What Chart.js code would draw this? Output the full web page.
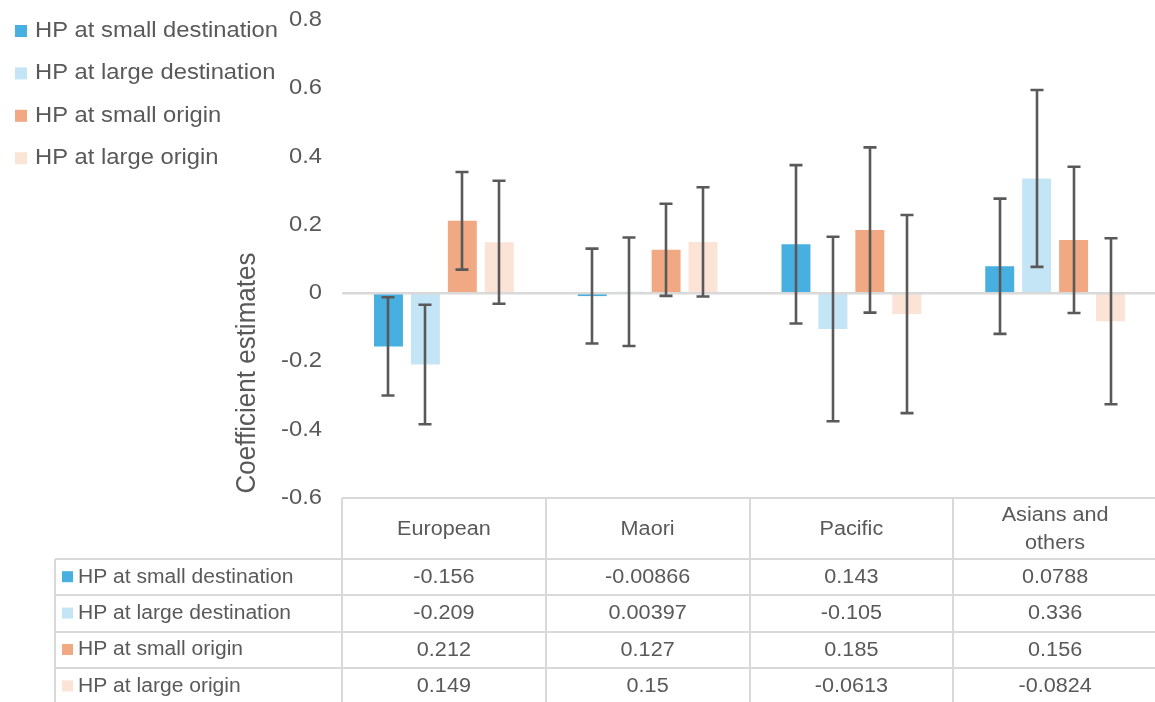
<!DOCTYPE html>
<html>
<head>
<meta charset="utf-8">
<title>Coefficient estimates</title>
<script src="https://cdn.jsdelivr.net/npm/chart.js@4.4.1/dist/chart.umd.min.js"></script>
<style>
  html, body { margin: 0; padding: 0; background: #ffffff; overflow: hidden; }
  #wrap { position: relative; width: 1157px; height: 702px; }
</style>
</head>
<body>
<div id="wrap"><canvas id="chart"></canvas></div>
<script>
// ---- data ----
const categories = ['European', 'Maori', 'Pacific', ['Asians and', 'others']];
const seriesNames = ['HP at small destination', 'HP at large destination', 'HP at small origin', 'HP at large origin'];
const smallDestination = [-0.156, -0.00866, 0.143, 0.0788];
const largeDestination = [-0.209, 0.00397, -0.105, 0.336];
const smallOrigin      = [0.212, 0.127, 0.185, 0.156];
const largeOrigin      = [0.149, 0.15, -0.0613, -0.0824];
// half-width of the confidence interval around each estimate
const smallDestinationErr = [0.144, 0.139, 0.232, 0.198];
const largeDestinationErr = [0.175, 0.159, 0.270, 0.259];
const smallOriginErr      = [0.143, 0.135, 0.242, 0.214];
const largeOriginErr      = [0.180, 0.160, 0.290, 0.243];
// table cell text, as printed
const smallDestinationText = ['-0.156', '-0.00866', '0.143', '0.0788'];
const largeDestinationText = ['-0.209', '0.00397', '-0.105', '0.336'];
const smallOriginText      = ['0.212', '0.127', '0.185', '0.156'];
const largeOriginText      = ['0.149', '0.15', '-0.0613', '-0.0824'];
const yTickLabels = ['-0.6', '-0.4', '-0.2', '0', '0.2', '0.4', '0.6', '0.8'];
const yAxisTitle = 'Coefficient estimates';

// ---- styling ----
const colors = ['#47B0E1', '#C3E5F5', '#F1A983', '#FBE3D6'];
const textColor = '#595959';
const lineGrey = '#D9D9D9';
const FONT = "'Liberation Sans', Arial, sans-serif";
const SX = 1.08; // horizontal text stretch

const values = [smallDestination, largeDestination, smallOrigin, largeOrigin];
const errors = [smallDestinationErr, largeDestinationErr, smallOriginErr, largeOriginErr];
const cellText = [smallDestinationText, largeDestinationText, smallOriginText, largeOriginText];

function drawText(ctx, text, x, y, size, align) {
  ctx.save();
  ctx.translate(x, y);
  ctx.scale(SX, 1);
  ctx.font = size + 'px ' + FONT;
  ctx.fillStyle = textColor;
  ctx.textAlign = align || 'left';
  ctx.textBaseline = 'middle';
  ctx.fillText(text, 0, 0);
  ctx.restore();
}

// zero line, error bars, tick labels, legend and data table
const decorations = {
  id: 'decorations',
  afterDatasetsDraw(chart) {
    const ctx = chart.ctx;
    const area = chart.chartArea;
    const y = chart.scales.y;

    // zero line
    const y0 = y.getPixelForValue(0);
    ctx.save();
    ctx.strokeStyle = lineGrey;
    ctx.lineWidth = 2.5;
    ctx.beginPath();
    ctx.moveTo(area.left, y0);
    ctx.lineTo(area.right, y0);
    ctx.stroke();
    ctx.restore();

    // error bars
    ctx.save();
    ctx.strokeStyle = '#595959';
    ctx.lineWidth = 2.6;
    const cap = 6.5;
    chart.data.datasets.forEach((ds, di) => {
      const meta = chart.getDatasetMeta(di);
      meta.data.forEach((bar, i) => {
        const v = values[di][i], e = errors[di][i];
        const top = y.getPixelForValue(v + e);
        const bot = y.getPixelForValue(v - e);
        const cx = Math.round(bar.x);
        ctx.beginPath();
        ctx.moveTo(cx, top); ctx.lineTo(cx, bot);
        ctx.moveTo(cx - cap, top); ctx.lineTo(cx + cap, top);
        ctx.moveTo(cx - cap, bot); ctx.lineTo(cx + cap, bot);
        ctx.stroke();
      });
    });
    ctx.restore();
  },
  afterDraw(chart) {
    const ctx = chart.ctx;
    const area = chart.chartArea;
    const y = chart.scales.y;
    const x = chart.scales.x;

    // y tick labels
    yTickLabels.forEach(t => {
      drawText(ctx, t, 322, y.getPixelForValue(parseFloat(t)), 22, 'right');
    });

    // y axis title
    ctx.save();
    ctx.translate(247, 373);
    ctx.scale(SX, 1);
    ctx.rotate(-Math.PI / 2);
    ctx.font = '26px ' + FONT;
    ctx.fillStyle = textColor;
    ctx.textAlign = 'center';
    ctx.textBaseline = 'middle';
    ctx.fillText(yAxisTitle, 0, 0);
    ctx.restore();

    // legend
    const legY0 = 31, legStep = 42.4;
    seriesNames.forEach((name, i) => {
      const cy = legY0 + i * legStep;
      ctx.fillStyle = colors[i];
      ctx.fillRect(15, cy - 6, 12, 12);
      drawText(ctx, name, 35, cy, 22, 'left');
    });

    // data table
    const tableTop = area.bottom;
    const headerBottom = 559;
    const rowH = 36.4;
    const tableLeft = 55;
    const tableBottom = headerBottom + rowH * 4;
    const half = (x.getPixelForValue(1) - x.getPixelForValue(0)) / 2;

    ctx.save();
    ctx.strokeStyle = lineGrey;
    ctx.lineWidth = 2;
    ctx.beginPath();
    // top of table along the plot bottom
    ctx.moveTo(area.left, tableTop); ctx.lineTo(area.right, tableTop);
    // column separators
    for (let i = 0; i <= categories.length; i++) {
      const cx = Math.round(x.getPixelForValue(i) - half);
      ctx.moveTo(cx, tableTop); ctx.lineTo(cx, tableBottom + 4);
    }
    // left edge of the series label column
    ctx.moveTo(tableLeft, headerBottom); ctx.lineTo(tableLeft, tableBottom + 4);
    // row separators
    for (let r = 0; r <= 4; r++) {
      const ry = Math.round(headerBottom + r * rowH);
      ctx.moveTo(tableLeft, ry); ctx.lineTo(area.right, ry);
    }
    ctx.stroke();
    ctx.restore();

    // header cells
    categories.forEach((c, i) => {
      const cx = x.getPixelForValue(i);
      if (Array.isArray(c)) {
        drawText(ctx, c[0], cx, 515, 20, 'center');
        drawText(ctx, c[1], cx, 543, 20, 'center');
      } else {
        drawText(ctx, c, cx, 529, 20, 'center');
      }
    });

    // series rows
    seriesNames.forEach((name, r) => {
      const cy = headerBottom + r * rowH + rowH / 2;
      ctx.fillStyle = colors[r];
      ctx.fillRect(62, cy - 6, 11, 11);
      drawText(ctx, name, 78, cy, 19.5, 'left');
      cellText[r].forEach((t, i) => {
        drawText(ctx, t, x.getPixelForValue(i), cy, 20, 'center');
      });
    });
  }
};

new Chart(document.getElementById('chart'), {
  type: 'bar',
  data: {
    labels: categories,
    datasets: seriesNames.map((name, i) => ({
      label: name,
      data: values[i],
      backgroundColor: colors[i],
      borderWidth: 0,
      categoryPercentage: 0.725,
      barPercentage: 0.784
    }))
  },
  options: {
    responsive: true,
    maintainAspectRatio: false,
    animation: false,
    layout: { padding: { left: 342, right: 0, top: 20, bottom: 204 } },
    plugins: { legend: { display: false }, tooltip: { enabled: false } },
    scales: {
      x: { display: false },
      y: { display: false, min: -0.6, max: 0.8, ticks: { stepSize: 0.2 } }
    }
  },
  plugins: [decorations]
});
</script>
</body>
</html>
